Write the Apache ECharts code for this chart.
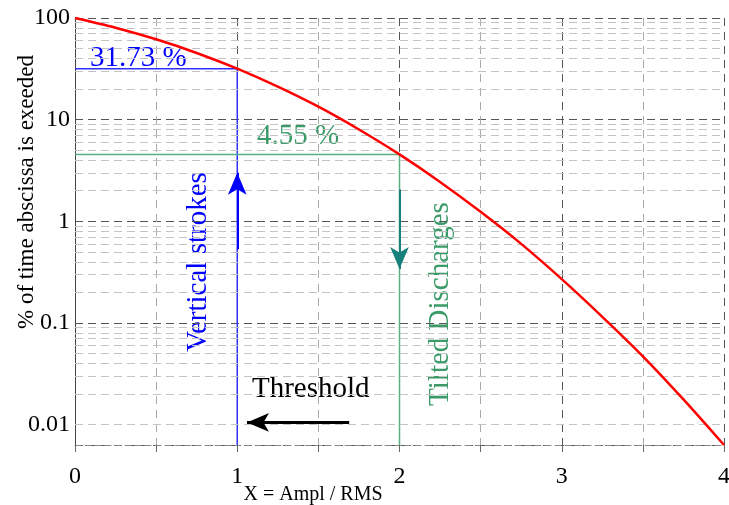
<!DOCTYPE html>
<html>
<head>
<meta charset="utf-8">
<script src="https://cdn.jsdelivr.net/npm/echarts@6/dist/echarts.min.js"></script>
<style>
  html, body { margin: 0; padding: 0; background: #fff; }
  #main { width: 729px; height: 505px; }
</style>
</head>
<body>
<div id="main"></div>
<script>
// curve: x = Ampl / RMS, y = % of time exceeded
var xValues = [0, 0.25, 0.5, 0.75, 1, 1.25, 1.5, 1.75, 2, 2.25, 2.5, 2.75, 3, 3.25, 3.5, 3.75, 4]
var pctValues = [100, 80.3, 61.7, 45.3, 31.73, 21.1, 13.4, 8.0, 4.55, 2.44, 1.24, 0.60, 0.27, 0.115, 0.047, 0.0177, 0.0063]

var yMin = 0.0063
var yMax = 100
var decades = [0.001, 0.01, 0.1, 1, 10]

// annotation paths (data coords)
var blueGuide = [[0, 31.73], [1, 31.73], [1, yMin]]
var greenGuide = [[0, 4.55], [2, 4.55], [2, yMin]]
var blueArrow = [[1, 0.53], [1, 3.0]]
var tealArrow = [[2, 2.05], [2, 0.34]]
var blackArrow = [[1.69, 0.0105], [1.06, 0.0105]]

var serif = '"Liberation Serif", "DejaVu Serif", serif'

var minorLevels = []
decades.forEach(function(d) {
  for (var k = 2; k <= 9; k++) {
    var v = +(d * k).toPrecision(3)
    if (v > yMin && v < yMax) minorLevels.push(v)
  }
})

var chart = echarts.init(document.getElementById('main'))

function pairs(xs, ys) {
  return xs.map(function(x, i) { return [x, ys[i]] })
}

chart.setOption({
  animation: false,
  grid: { left: 75, right: 5, top: 18, bottom: 60, containLabel: false, outerBoundsMode: 'none' },
  xAxis: {
    type: 'value',
    min: 0,
    max: 4,
    interval: 0.5,
    axisLine: { show: true, lineStyle: { color: '#888', type: [6, 4] } },
    axisTick: { show: true, length: 7, lineStyle: { color: '#666' } },
    axisLabel: {
      color: '#000',
      fontFamily: serif,
      fontSize: 24,
      margin: 20,
      formatter: function(v) { return v % 1 === 0 ? String(v) : '' }
    },
    splitLine: {
      show: true,
      lineStyle: { color: ['#555', '#aaa'], type: [8, 6], width: 1 }
    }
  },
  yAxis: {
    type: 'log',
    logBase: 10,
    min: yMin,
    max: yMax,
    axisLine: { show: true, onZero: false, lineStyle: { color: '#444', width: 1 } },
    axisTick: { show: false },
    axisLabel: {
      color: '#000',
      fontFamily: serif,
      fontSize: 24,
      margin: 5,
      showMinLabel: false,
      formatter: function(v) { return String(+v.toPrecision(3)) }
    },
    splitLine: {
      show: true,
      lineStyle: { color: '#555', type: [8, 5], width: 1 }
    }
  },
  series: [
    {
      // light minor grid lines at 2..9 of each decade
      type: 'line',
      data: [],
      silent: true,
      markLine: {
        silent: true,
        symbol: ['none', 'none'],
        label: { show: false },
        lineStyle: { color: '#c4c4c4', type: [8, 5], width: 1 },
        data: minorLevels.map(function(v) { return { yAxis: v } })
      }
    },
    {
      type: 'line',
      data: blueGuide,
      symbol: 'none',
      lineStyle: { color: '#3030ff', width: 1.5 },
      z: 3
    },
    {
      type: 'line',
      data: greenGuide,
      symbol: 'none',
      lineStyle: { color: '#5aae80', width: 1.5 },
      z: 3
    },
    {
      type: 'line',
      data: pairs(xValues, pctValues),
      symbol: 'none',
      smooth: 0.3,
      lineStyle: { color: '#ff0000', width: 2.5 },
      z: 5
    },
    {
      type: 'line',
      data: [],
      markLine: {
        silent: true,
        symbol: ['none', 'arrow'],
        symbolSize: [14, 22],
        label: { show: false },
        data: [
          [{ coord: blueArrow[0], lineStyle: { color: '#0000ff', width: 2, type: 'solid' } }, { coord: blueArrow[1] }],
          [{ coord: tealArrow[0], lineStyle: { color: '#17807a', width: 2, type: 'solid' } }, { coord: tealArrow[1] }],
          [{ coord: blackArrow[0], lineStyle: { color: '#000', width: 3, type: 'solid' } }, { coord: blackArrow[1] }]
        ]
      },
      z: 6
    }
  ],
  graphic: [
    {
      type: 'text', x: 90, y: 58,
      style: { text: '31.73 %', fill: '#0000ff', font: '29px ' + serif, verticalAlign: 'middle' }
    },
    {
      type: 'text', x: 257, y: 136,
      style: { text: '4.55 %', fill: '#3a9a68', font: '29px ' + serif, verticalAlign: 'middle' }
    },
    {
      type: 'text', x: 198, y: 262, rotation: Math.PI / 2,
      style: { text: 'Vertical strokes', fill: '#0000ff', font: '29px ' + serif, align: 'center', verticalAlign: 'middle' }
    },
    {
      type: 'text', x: 440, y: 304, rotation: Math.PI / 2,
      style: { text: 'Tilted Discharges', fill: '#3a9a68', font: '29px ' + serif, align: 'center', verticalAlign: 'middle' }
    },
    {
      type: 'text', x: 252, y: 389,
      style: { text: 'Threshold', fill: '#000', font: '29px ' + serif, verticalAlign: 'middle' }
    },
    {
      type: 'text', x: 27, y: 192, rotation: Math.PI / 2,
      style: { text: '% of time abscissa is exeeded', fill: '#000', font: '23px ' + serif, align: 'center', verticalAlign: 'middle' }
    },
    {
      type: 'text', x: 313, y: 495,
      style: { text: 'X = Ampl / RMS', fill: '#000', font: '20px ' + serif, align: 'center', verticalAlign: 'middle' }
    }
  ]
})
</script>
</body>
</html>
